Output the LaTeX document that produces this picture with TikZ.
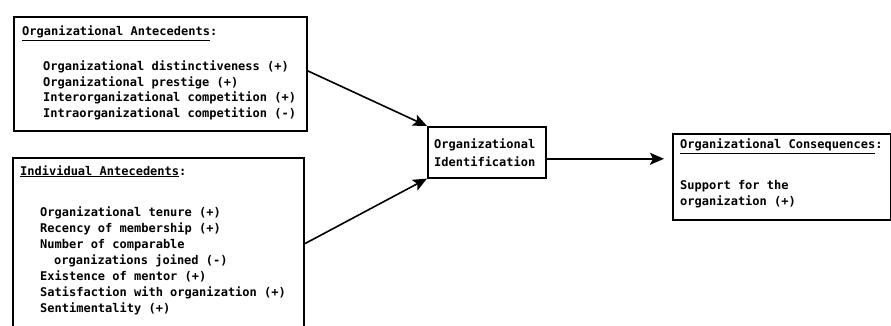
\documentclass[tikz,border=0pt]{standalone}
\usepackage{fontspec}
\setmonofont{DejaVu Sans Mono}
\usepackage{tikz}
\usetikzlibrary{arrows.meta, positioning, calc}

\begin{document}
\begin{tikzpicture}[
    x=1pt, y=-1pt,
    box/.style={rectangle, draw=black, line width=1.6pt, inner sep=0pt, anchor=north west},
    txt/.style={anchor=base west, inner sep=0pt, font=\ttfamily\bfseries\fontsize{12pt}{15.5pt}\selectfont},
    arr/.style={-{Stealth[length=14pt, width=12pt, inset=3pt]}, line width=1.6pt},
]
    \useasboundingbox (0,0) rectangle (891,326);

    % antecedent and consequence boxes
    \node[box, minimum width=293pt, minimum height=114pt] (organte) at (13,16) {};
    \node[box, minimum width=291pt, minimum height=172pt] (indante) at (12,157) {};
    \node[box, minimum width=118pt, minimum height=51pt] (ident) at (427,126) {};
    \node[box, minimum width=218pt, minimum height=86pt] (conseq) at (672,133) {};

    % box titles
    \node[txt] (orgtitle) at (22,36) {\underline{Organizational Antecedents}:};
    \node[txt] (indtitle) at (20,175) {\underline{Individual Antecedents}:};
    \node[txt] (contitle) at (680,149) {\underline{Organizational Consequences}:};

    % organizational antecedents
    \foreach \t [count=\i] in {Organizational distinctiveness (+), Organizational prestige (+),
        Interorganizational competition (+), Intraorganizational competition (-)} {
        \node[txt] (oa\i) at (43, 55.5+\i*15.5) {\t};
    }
    % individual antecedents
    \foreach \t [count=\i] in {Organizational tenure (+), Recency of membership (+),
        Number of comparable, \hspace{14pt}organizations joined (-), Existence of mentor (+),
        Satisfaction with organization (+), Sentimentality (+)} {
        \node[txt] (ia\i) at (40, 200+\i*16) {\t};
    }

    \node[txt] (idl1) at (434,149) {Organizational};
    \node[txt] (idl2) at (434,166) {Identification};
    \node[txt] (cs1) at (680,189) {Support for the};
    \node[txt] (cs2) at (680,205) {organization (+)};

    % arrows
    \draw[arr] ([yshift=3pt]organte.east) -- (ident.north west);
    \draw[arr] (indante.east) -- (ident.south west);
    \draw[arr, shorten >=8pt] ([yshift=-6.5pt]ident.east) -- ([yshift=-6.5pt]ident.east -| conseq.west);
\end{tikzpicture}
\end{document}
